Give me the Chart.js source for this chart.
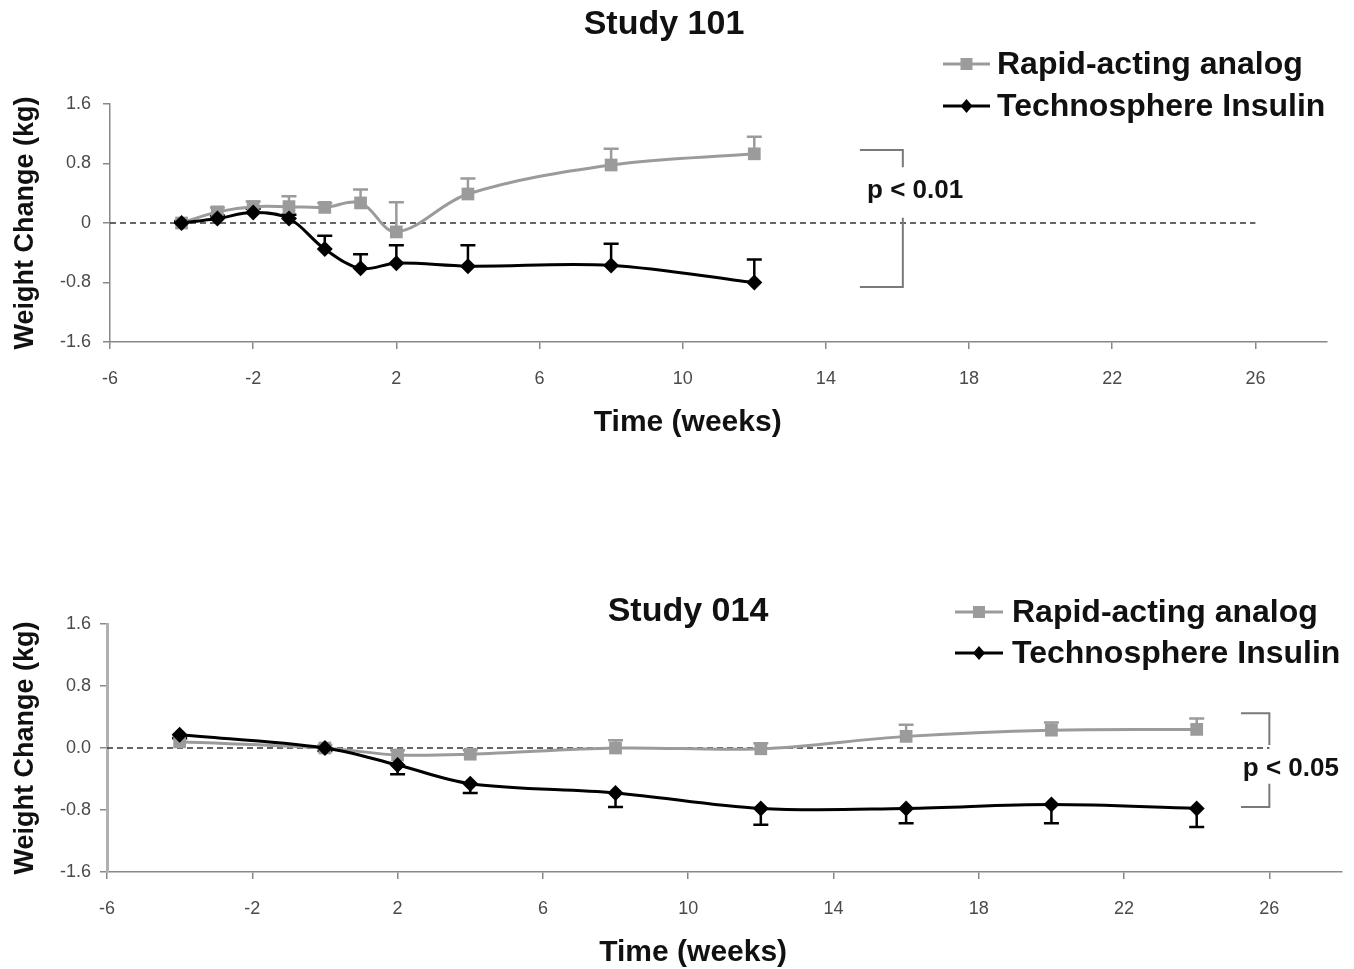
<!DOCTYPE html>
<html>
<head>
<meta charset="utf-8">
<script src="https://cdn.jsdelivr.net/npm/chart.js@4.4.1/dist/chart.umd.min.js"></script>
<style>
  body { margin: 0; background: #fff; }
  #wrap { position: relative; width: 1354px; height: 969px; }
  canvas { position: absolute; left: 0; }
  #c101 { top: 0; }
  #c014 { top: 470px; }
</style>
</head>
<body>
<div id="wrap">
  <canvas id="c101" width="1354" height="470"></canvas>
  <canvas id="c014" width="1354" height="499"></canvas>
</div>
<script>
// Shared axis ticks
const xTicks = [-6, -2, 2, 6, 10, 14, 18, 22, 26];
const yTicks = [-1.6, -0.8, 0, 0.8, 1.6];
const seriesNames = ['Rapid-acting analog', 'Technosphere Insulin'];

// Study 101
const weeks101 = [-4, -3, -2, -1, 0, 1, 2, 4, 8, 12];
const rapid101 = [0.0, 0.15, 0.22, 0.22, 0.21, 0.27, -0.12, 0.39, 0.78, 0.93];
const rapid101Err = [0.03, 0.06, 0.07, 0.14, 0.06, 0.18, 0.40, 0.21, 0.22, 0.23];
const tech101 = [0.0, 0.06, 0.14, 0.06, -0.35, -0.61, -0.54, -0.58, -0.57, -0.80];
const tech101Err = [0.02, 0.04, 0.05, 0.05, 0.18, 0.19, 0.24, 0.28, 0.29, 0.31];

// Study 014
const weeks014 = [-4, 0, 2, 4, 8, 12, 16, 20, 24];
const rapid014 = [0.08, 0.0, -0.09, -0.08, 0.0, -0.01, 0.15, 0.23, 0.24];
const rapid014Err = [0.04, 0.04, 0.06, 0.05, 0.10, 0.07, 0.15, 0.10, 0.14];
const tech014 = [0.17, 0.0, -0.22, -0.46, -0.58, -0.78, -0.78, -0.73, -0.78];
const tech014Err = [0.04, 0.04, 0.12, 0.12, 0.18, 0.21, 0.19, 0.24, 0.24];

const FONT = "'Liberation Sans', Arial, sans-serif";
const GRAY = '#9b9b9b';
const BLACK = '#000000';

function toPoints(xs, ys) {
  return xs.map((x, i) => ({ x: x, y: ys[i] }));
}

// extra drawing: zero line, error bars, title, legend, p-value bracket, x title
function makeExtras(spec) {
  return {
    id: 'extras',
    beforeDatasetsDraw(chart) {
      const ctx = chart.ctx;
      const x = chart.scales.x, y = chart.scales.y;
      const y0 = y.getPixelForValue(0);
      ctx.save();
      ctx.setLineDash([6, 4]);
      ctx.strokeStyle = '#333';
      ctx.lineWidth = 1.3;
      ctx.beginPath();
      ctx.moveTo(x.getPixelForValue(x.min), y0);
      ctx.lineTo(x.getPixelForValue(26), y0);
      ctx.stroke();
      ctx.setLineDash([]);

      // error bars
      spec.errors.forEach(e => {
        const meta = chart.getDatasetMeta(e.dataset);
        const vals = chart.data.datasets[e.dataset].data;
        ctx.strokeStyle = e.color;
        ctx.lineWidth = 2.5;
        meta.data.forEach((pt, i) => {
          const end = y.getPixelForValue(vals[i].y + e.dir * e.err[i]);
          ctx.beginPath();
          ctx.moveTo(pt.x, pt.y);
          ctx.lineTo(pt.x, end);
          ctx.moveTo(pt.x - 7.5, end);
          ctx.lineTo(pt.x + 7.5, end);
          ctx.stroke();
        });
      });
      ctx.restore();
    },
    afterDraw(chart) {
      const ctx = chart.ctx;
      const x = chart.scales.x, y = chart.scales.y;
      ctx.save();

      // title
      ctx.fillStyle = '#111';
      ctx.font = 'bold 34px ' + FONT;
      ctx.textAlign = 'center';
      ctx.textBaseline = 'middle';
      ctx.fillText(spec.title, spec.titleX, spec.titleY);

      // x axis title
      ctx.font = 'bold 30px ' + FONT;
      const xMid = (x.getPixelForValue(xTicks[0]) + x.getPixelForValue(xTicks[xTicks.length - 1])) / 2;
      ctx.fillText('Time (weeks)', xMid + 5, chart.chartArea.bottom + 81);

      // legend
      const lg = spec.legend;
      ctx.textAlign = 'left';
      ctx.font = 'bold 32px ' + FONT;
      [GRAY, BLACK].forEach((col, i) => {
        const ry = lg.rows[i];
        ctx.strokeStyle = col;
        ctx.lineWidth = 3;
        ctx.beginPath();
        ctx.moveTo(lg.x0, ry);
        ctx.lineTo(lg.x1, ry);
        ctx.stroke();
        const cx = (lg.x0 + lg.x1) / 2;
        ctx.fillStyle = col;
        ctx.beginPath();
        if (i === 0) {
          ctx.rect(cx - 6, ry - 6, 12, 12);
        } else {
          ctx.moveTo(cx, ry - 7);
          ctx.lineTo(cx + 6, ry);
          ctx.lineTo(cx, ry + 7);
          ctx.lineTo(cx - 6, ry);
          ctx.closePath();
        }
        ctx.fill();
        ctx.fillStyle = '#111';
        ctx.fillText(seriesNames[i], lg.textX, ry + 1);
      });

      // p-value bracket
      const b = spec.bracket;
      const bx0 = x.getPixelForValue(b.x0), bx1 = x.getPixelForValue(b.x1);
      ctx.strokeStyle = '#7a7a7a';
      ctx.lineWidth = 2;
      ctx.beginPath();
      ctx.moveTo(bx0, y.getPixelForValue(b.yTop));
      ctx.lineTo(bx1, y.getPixelForValue(b.yTop));
      ctx.lineTo(bx1, y.getPixelForValue(b.gapTop));
      ctx.moveTo(bx1, y.getPixelForValue(b.gapBot));
      ctx.lineTo(bx1, y.getPixelForValue(b.yBot));
      ctx.lineTo(bx0, y.getPixelForValue(b.yBot));
      ctx.stroke();
      ctx.fillStyle = '#111';
      ctx.font = 'bold 26px ' + FONT;
      ctx.fillText(b.text, x.getPixelForValue(b.textX), y.getPixelForValue(b.textY));
      ctx.restore();
    }
  };
}

function makeChart(id, spec) {
  const datasets = [
    {
      label: seriesNames[1],
      data: toPoints(spec.weeks, spec.tech),
      borderColor: BLACK,
      backgroundColor: BLACK,
      borderWidth: 3,
      pointStyle: 'rectRot',
      pointRadius: 8,
      pointBorderWidth: 0,
      tension: 0.35,
      order: 0
    },
    {
      label: seriesNames[0],
      data: toPoints(spec.weeks, spec.rapid),
      borderColor: GRAY,
      backgroundColor: GRAY,
      borderWidth: 3,
      pointStyle: 'rect',
      pointRadius: 9,
      pointBorderWidth: 0,
      tension: 0.35,
      order: 1
    }
  ];

  return new Chart(document.getElementById(id), {
    type: 'line',
    data: { datasets: datasets },
    options: {
      responsive: false,
      animation: false,
      devicePixelRatio: 1,
      layout: { padding: { top: spec.padTop, right: spec.padRight, left: 0, bottom: 0 } },
      plugins: { legend: { display: false }, tooltip: { enabled: false } },
      scales: {
        x: {
          type: 'linear',
          min: -6,
          max: 28,
          afterBuildTicks: s => { s.ticks = xTicks.map(v => ({ value: v })); },
          afterFit: s => { s.height = spec.xHeight; },
          grid: { drawOnChartArea: false, drawTicks: true, tickLength: 7, color: '#888', lineWidth: 1.5 },
          border: { display: true, color: '#888', width: 1.5 },
          ticks: { font: { family: FONT, size: 18 }, color: '#4a4a4a', padding: 19, maxRotation: 0 }
        },
        y: {
          min: -1.6,
          max: 1.6,
          afterBuildTicks: s => { s.ticks = yTicks.map(v => ({ value: v })); },
          afterFit: s => { s.width = spec.yWidth; },
          grid: { drawOnChartArea: false, drawTicks: true, tickLength: 7, color: '#888', lineWidth: 1.5 },
          border: { display: true, color: spec.yAxisColor, width: spec.yAxisWidth },
          ticks: {
            font: { family: FONT, size: 18 },
            color: '#4a4a4a',
            padding: spec.yTickPad,
            callback: v => (Math.abs(v) < 1e-9 ? spec.zeroLabel : v.toFixed(1))
          },
          title: {
            display: true,
            text: 'Weight Change (kg)',
            font: { family: FONT, size: 27, weight: 'bold' },
            color: '#111',
            padding: { top: 9, bottom: 0 }
          }
        }
      }
    },
    plugins: [makeExtras(spec)]
  });
}

makeChart('c101', {
  title: 'Study 101', titleX: 664, titleY: 25,
  weeks: weeks101, rapid: rapid101, tech: tech101,
  errors: [
    { dataset: 1, err: rapid101Err, dir: 1, color: GRAY },
    { dataset: 0, err: tech101Err, dir: 1, color: BLACK }
  ],
  padTop: 104, padRight: 27, xHeight: 128, yWidth: 110, yTickPad: 12,
  yAxisColor: '#888', yAxisWidth: 1.5,
  zeroLabel: '0',
  legend: { x0: 943, x1: 990, textX: 997, rows: [64, 106] },
  bracket: { x0: 14.95, x1: 16.15, yTop: 0.98, gapTop: 0.75, gapBot: 0.07, yBot: -0.86,
             text: 'p < 0.01', textX: 15.15, textY: 0.43 }
});

makeChart('c014', {
  title: 'Study 014', titleX: 688, titleY: 142,
  weeks: weeks014, rapid: rapid014, tech: tech014,
  errors: [
    { dataset: 1, err: rapid014Err, dir: 1, color: GRAY },
    { dataset: 0, err: tech014Err, dir: -1, color: BLACK }
  ],
  padTop: 154, padRight: 12, xHeight: 97, yWidth: 107, yTickPad: 9,
  yAxisColor: '#b0b0b0', yAxisWidth: 3,
  zeroLabel: '0.0',
  legend: { x0: 955, x1: 1003, textX: 1012, rows: [142, 183] },
  bracket: { x0: 25.22, x1: 26.0, yTop: 0.45, gapTop: 0.04, gapBot: -0.46, yBot: -0.76,
             text: 'p < 0.05', textX: 25.27, textY: -0.27 }
});
</script>
</body>
</html>
